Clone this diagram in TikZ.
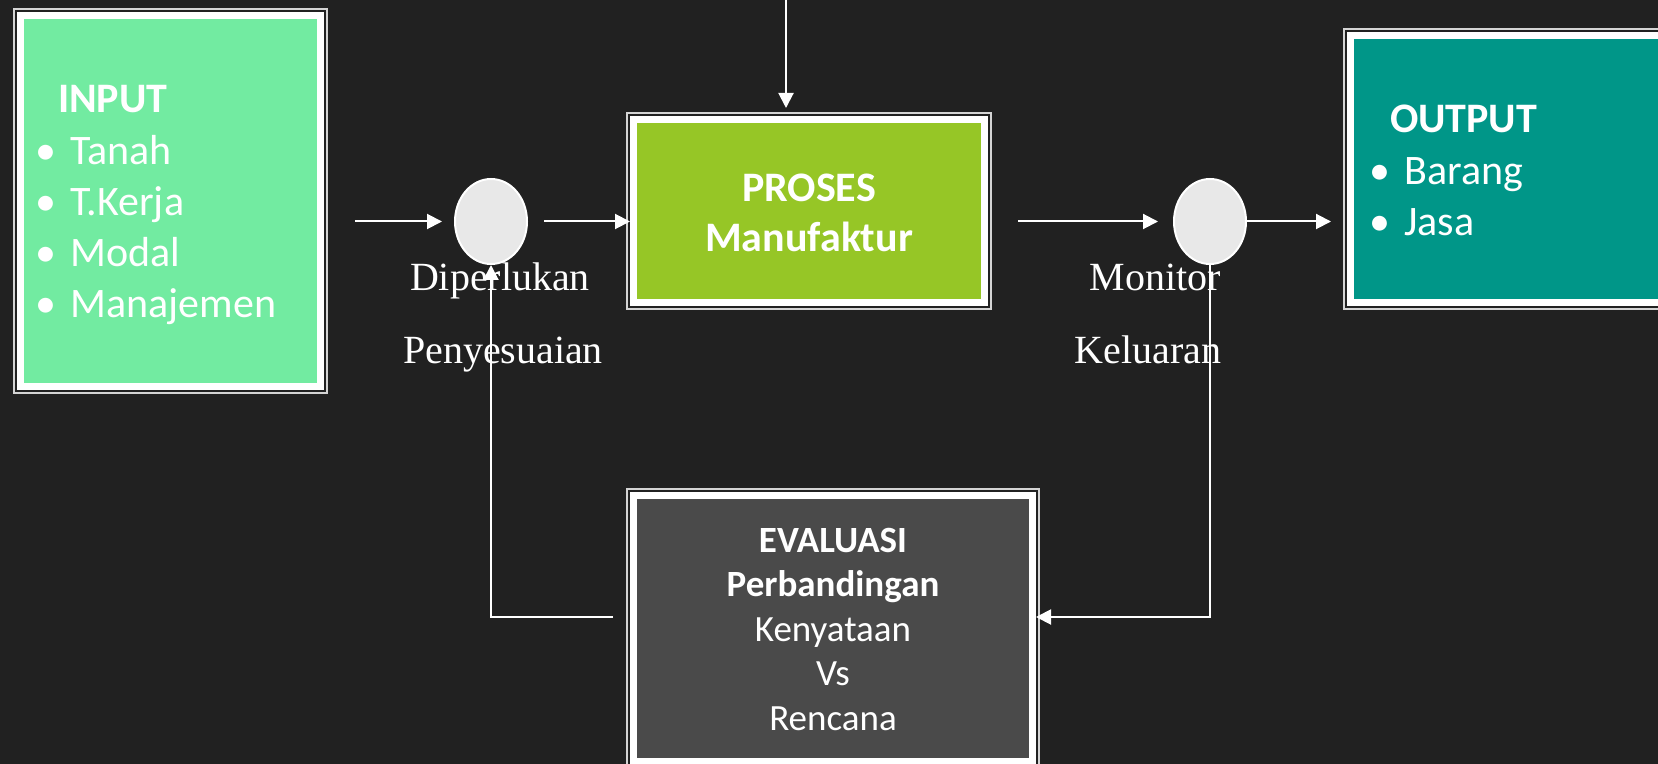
\documentclass[tikz,border=0pt]{standalone}
\usepackage{fontspec}
\setmainfont{Carlito}
\newfontfamily\labelfont{Liberation Serif}
\usetikzlibrary{arrows.meta, shapes.geometric}

\definecolor{bgdark}{HTML}{212121}
\definecolor{framegray}{HTML}{D4D4D4}
\definecolor{ingreen}{HTML}{72EBA1}
\definecolor{prosgreen}{HTML}{96C626}
\definecolor{outteal}{HTML}{009688}
\definecolor{evalgray}{HTML}{4A4A4A}
\definecolor{circgray}{HTML}{E8E8E8}

\tikzset{
    frame/.style={draw=white, line width=3.5pt, text=white, inner sep=0pt,
        preaction={draw=framegray, line width=7.5pt},
        preaction={draw=bgdark, line width=5.5pt}},
    bigtext/.style={font=\fontsize{21}{25.6}\selectfont},
    smalltext/.style={font=\fontsize{18.5}{22.25}\selectfont},
    joint/.style={ellipse, draw=white, line width=1pt, fill=circgray,
        minimum width=36pt, minimum height=42.5pt, inner sep=0pt},
    lbl/.style={text=white, font=\labelfont\fontsize{20}{24}\selectfont, inner sep=0pt},
    arr/.style={draw=white, line width=1pt, -{Triangle[length=7.5pt,width=7.5pt]}}
}

\begin{document}
\begin{tikzpicture}[x=0.5pt, y=-0.5pt]
    % Background (1 unit = 1 pixel)
    \fill[bgdark] (0,0) rectangle (1658,764);
    \useasboundingbox (0,0) rectangle (1658,764);

    % Boxes
    \node[frame, bigtext, fill=ingreen, minimum width=150pt, minimum height=185.5pt,
        text width=135pt, align=left, text height=13.5pt, text depth=101.5pt] (input) at (170.5,201)
        {\hspace*{11.25pt}\textbf{INPUT}\\
         \textbullet\ Tanah\\
         \textbullet\ T.Kerja\\
         \textbullet\ Modal\\
         \textbullet\ Manajemen};
    \node[frame, bigtext, fill=prosgreen, minimum width=175.5pt, minimum height=91.5pt,
        text width=160pt, align=center, text height=13.5pt, text depth=22.5pt,
        font=\bfseries\fontsize{21}{25}\selectfont] (proses) at (809,211)
        {PROSES\\Manufaktur};
    \node[frame, bigtext, fill=outteal, minimum width=175pt, minimum height=133.5pt,
        text width=156pt, align=left, text height=13.5pt, text depth=50pt] (output) at (1525.5,169.5)
        {\hspace*{10.25pt}\textbf{OUTPUT}\\
         \textbullet\ Barang\\
         \textbullet\ Jasa};
    \node[frame, smalltext, fill=evalgray, minimum width=199.5pt, minimum height=133pt,
        text width=180pt, align=center, text height=12pt, text depth=88.5pt] (eval) at (833,628.5)
        {\textbf{EVALUASI}\\\textbf{Perbandingan}\\Kenyataan\\Vs\\Rencana};

    % Joints and their labels
    \node[joint] (dip) at (491,221.5) {};
    \node[joint] (mon) at (1210,221.5) {};
    \node[lbl, anchor=base] (dip1) at (500,291) {Diperlukan};
    \node[lbl, anchor=base] (dip2) at (503,364) {Penyesuaian};
    \node[lbl, anchor=base] (mon1) at (1155,291) {Monitor};
    \node[lbl, anchor=base] (mon2) at (1148,364) {Keluaran};

    \coordinate (topin) at (786,0);
    \coordinate (fb) at (0,617);

    % Forward flow
    \draw[arr, shorten <=15.5pt, shorten >=6pt] (dip.west -| input.east) -- (dip.west);
    \draw[arr, shorten <=8pt] (dip.east) -- (dip.east -| proses.west);
    \draw[arr, shorten >=4pt] (topin) -- (topin |- proses.north);
    \draw[arr, shorten <=15pt, shorten >=7.5pt] (mon.west -| proses.east) -- (mon.west);
    \draw[arr, shorten >=8pt] (mon.east) -- (mon.east -| output.west);

    % Feedback loop
    \draw[arr] (mon.south) |- (fb -| eval.east);
    \draw[arr, shorten <=8.5pt] (fb -| eval.west) -| (dip.south);
\end{tikzpicture}
\end{document}
